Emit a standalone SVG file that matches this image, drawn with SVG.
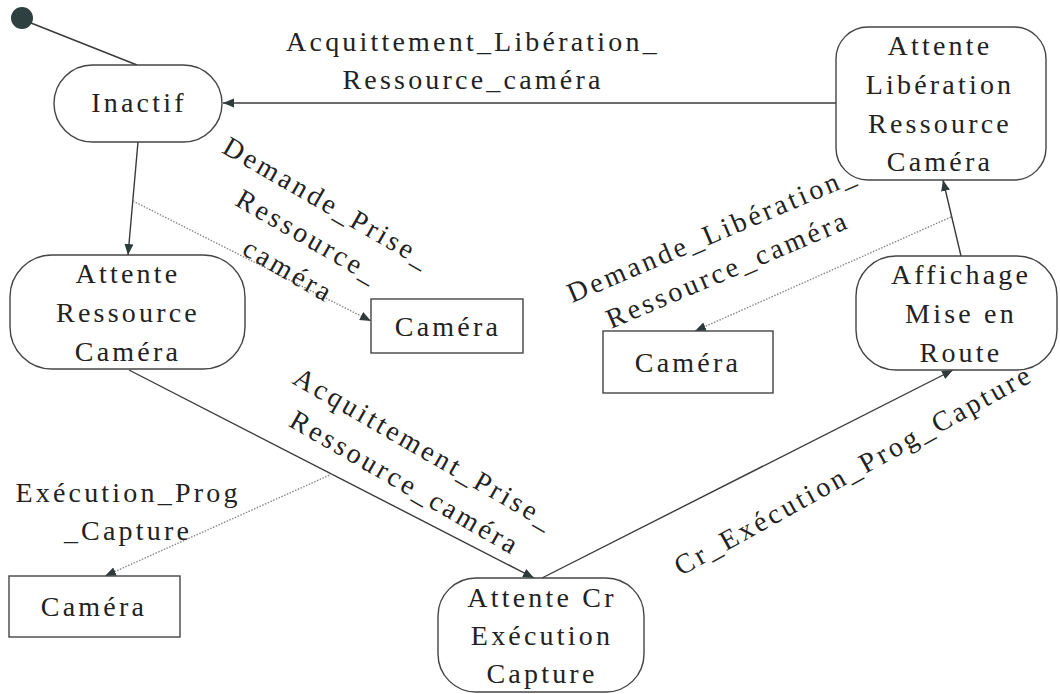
<svg xmlns="http://www.w3.org/2000/svg" width="1060" height="694" viewBox="0 0 1060 694">
<style>
text{font-family:"Liberation Serif","Times New Roman",serif;font-size:28px;letter-spacing:3.2px;fill:#222;text-anchor:middle}
.st{fill:#fff;stroke:#444;stroke-width:1.4}
.ln{fill:none;stroke:#3a3a3a;stroke-width:1.4}
.dt{fill:none;stroke:#888;stroke-width:1.4;stroke-dasharray:1.5 1.5}
</style>
<defs>
<marker id="ah" markerUnits="userSpaceOnUse" markerWidth="12" markerHeight="10" refX="11" refY="4.5" orient="auto">
<path d="M0,0 L11,4.5 L0,9 z" fill="#2f3b3b"/>
</marker>
</defs>
<g id="connectors">
<circle cx="22" cy="18" r="11" fill="#2f4040"/>
<line class="ln" x1="31" y1="23" x2="137" y2="65"/>
<line class="ln" x1="836" y1="103" x2="223" y2="103" marker-end="url(#ah)"/>
<line class="ln" x1="138" y1="142" x2="128" y2="255" marker-end="url(#ah)"/>
<line class="dt" x1="133" y1="201" x2="371" y2="321" marker-end="url(#ah)"/>
<line class="ln" x1="129" y1="370" x2="534" y2="578" marker-end="url(#ah)"/>
<line class="dt" x1="332" y1="474" x2="105" y2="576" marker-end="url(#ah)"/>
<line class="ln" x1="542" y1="578" x2="953" y2="370" marker-end="url(#ah)"/>
<line class="ln" x1="961" y1="256" x2="943" y2="180" marker-end="url(#ah)"/>
<line class="dt" x1="951" y1="217" x2="695" y2="331" marker-end="url(#ah)"/>
<text x="473" y="51">Acquittement_Libération_</text>
<text x="473" y="89">Ressource_caméra</text>
<text transform="translate(323,211) rotate(30)"><tspan x="0" y="0">Demande_Prise_</tspan><tspan x="0" y="39">Ressource_</tspan><tspan x="0" y="78">caméra</tspan></text>
<text transform="translate(716,242) rotate(-23)"><tspan x="0" y="0">Demande_Libération_</tspan><tspan x="0" y="39">Ressource_caméra</tspan></text>
<text transform="translate(420,457) rotate(30)"><tspan x="0" y="0">Acquittement_Prise_</tspan><tspan x="0" y="39">Ressource_caméra</tspan></text>
<text transform="translate(858,478) rotate(-29)">Cr_Exécution_Prog_Capture</text>
<text x="128" y="502">Exécution_Prog</text>
<text x="128" y="540">_Capture</text>
</g>
<g id="inactif">
<rect class="st" x="54" y="65" width="168" height="77" rx="38.5" ry="38.5"/>
<text x="139" y="112">Inactif</text>
</g>
<g id="attente-liberation">
<rect class="st" x="836" y="27" width="210" height="153" rx="32" ry="32"/>
<text x="940" y="55">Attente</text>
<text x="940" y="94">Libération</text>
<text x="940" y="133">Ressource</text>
<text x="940" y="171">Caméra</text>
</g>
<g id="attente-ressource">
<rect class="st" x="10" y="255" width="235" height="114" rx="42" ry="42"/>
<text x="128" y="283">Attente</text>
<text x="128" y="322">Ressource</text>
<text x="128" y="361">Caméra</text>
</g>
<g id="camera1">
<rect class="st" x="371" y="299" width="152" height="54"/>
<text x="448" y="336">Caméra</text>
</g>
<g id="camera2">
<rect class="st" x="603" y="331" width="170" height="62"/>
<text x="688" y="372">Caméra</text>
</g>
<g id="affichage">
<rect class="st" x="856" y="256" width="201" height="114" rx="40" ry="40"/>
<text x="961" y="284">Affichage</text>
<text x="961" y="323">Mise en</text>
<text x="961" y="362">Route</text>
</g>
<g id="camera3">
<rect class="st" x="9" y="576" width="171" height="61"/>
<text x="94" y="616">Caméra</text>
</g>
<g id="attente-cr">
<rect class="st" x="438" y="578" width="206" height="114" rx="38" ry="38"/>
<text x="542" y="607">Attente Cr</text>
<text x="542" y="645">Exécution</text>
<text x="542" y="683">Capture</text>
</g>
</svg>
